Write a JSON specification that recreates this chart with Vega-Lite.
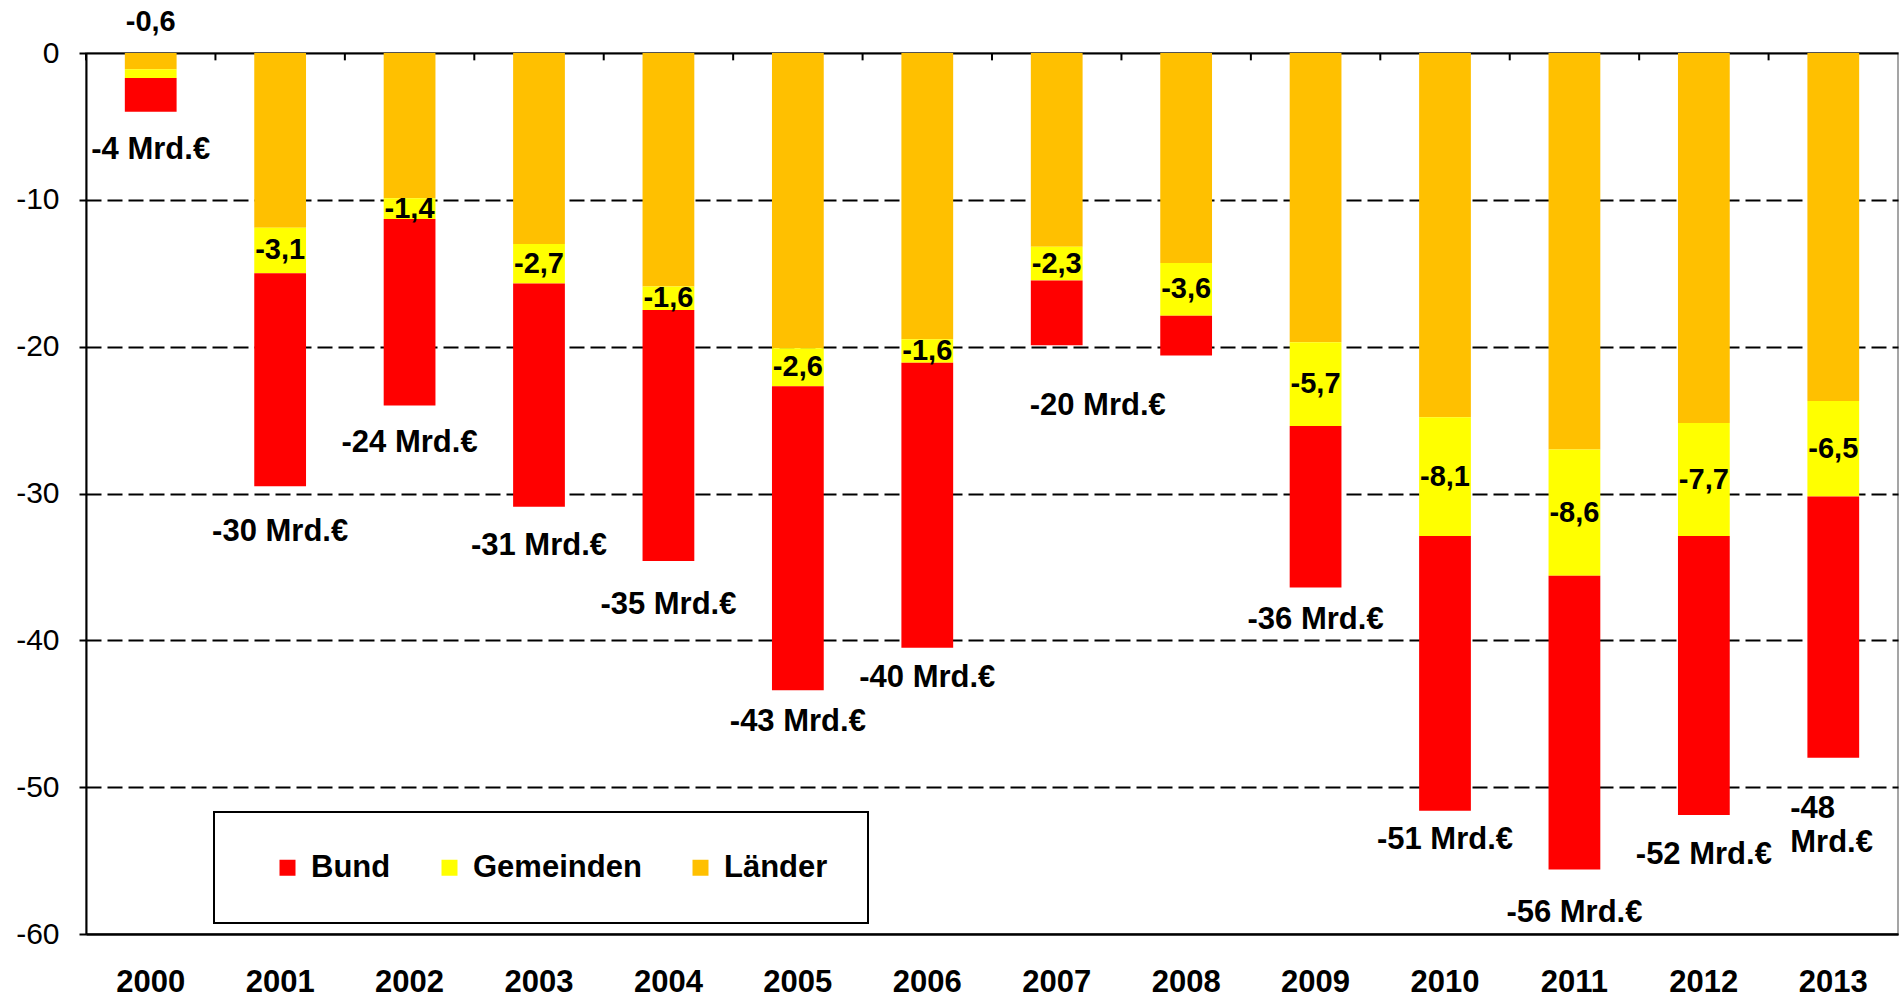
{
  "$schema": "https://vega.github.io/schema/vega-lite/v6.json",
  "width": 1812,
  "height": 881,
  "autosize": {"type": "none"},
  "padding": {"left": 86, "top": 53, "right": 1, "bottom": 65},
  "background": "white",
  "config": {
    "locale": {"number": {"decimal": ",", "thousands": ".", "grouping": [3], "currency": ["", " Mrd.€"], "minus": "-"}},
    "font": "Liberation Sans",
    "view": {"stroke": "#888888", "strokeWidth": 1.5},
    "axis": {"labelFont": "Liberation Sans", "labelColor": "#000000", "domainColor": "#000000", "tickColor": "#000000"},
    "legend": {"strokeWidth": 2},
    "text": {"font": "Liberation Sans", "color": "#000000"}
  },
  "datasets": {
    "werte": [
      {"Jahr": "2000", "Ebene": "Länder", "Wert": -1.1},
      {"Jahr": "2000", "Ebene": "Gemeinden", "Wert": -0.6},
      {"Jahr": "2000", "Ebene": "Bund", "Wert": -2.3},
      {"Jahr": "2001", "Ebene": "Länder", "Wert": -11.9},
      {"Jahr": "2001", "Ebene": "Gemeinden", "Wert": -3.1},
      {"Jahr": "2001", "Ebene": "Bund", "Wert": -14.5},
      {"Jahr": "2002", "Ebene": "Länder", "Wert": -9.9},
      {"Jahr": "2002", "Ebene": "Gemeinden", "Wert": -1.4},
      {"Jahr": "2002", "Ebene": "Bund", "Wert": -12.7},
      {"Jahr": "2003", "Ebene": "Länder", "Wert": -13.0},
      {"Jahr": "2003", "Ebene": "Gemeinden", "Wert": -2.7},
      {"Jahr": "2003", "Ebene": "Bund", "Wert": -15.2},
      {"Jahr": "2004", "Ebene": "Länder", "Wert": -15.9},
      {"Jahr": "2004", "Ebene": "Gemeinden", "Wert": -1.6},
      {"Jahr": "2004", "Ebene": "Bund", "Wert": -17.1},
      {"Jahr": "2005", "Ebene": "Länder", "Wert": -20.1},
      {"Jahr": "2005", "Ebene": "Gemeinden", "Wert": -2.6},
      {"Jahr": "2005", "Ebene": "Bund", "Wert": -20.7},
      {"Jahr": "2006", "Ebene": "Länder", "Wert": -19.5},
      {"Jahr": "2006", "Ebene": "Gemeinden", "Wert": -1.6},
      {"Jahr": "2006", "Ebene": "Bund", "Wert": -19.4},
      {"Jahr": "2007", "Ebene": "Länder", "Wert": -13.2},
      {"Jahr": "2007", "Ebene": "Gemeinden", "Wert": -2.3},
      {"Jahr": "2007", "Ebene": "Bund", "Wert": -4.4},
      {"Jahr": "2008", "Ebene": "Länder", "Wert": -14.3},
      {"Jahr": "2008", "Ebene": "Gemeinden", "Wert": -3.6},
      {"Jahr": "2008", "Ebene": "Bund", "Wert": -2.7},
      {"Jahr": "2009", "Ebene": "Länder", "Wert": -19.7},
      {"Jahr": "2009", "Ebene": "Gemeinden", "Wert": -5.7},
      {"Jahr": "2009", "Ebene": "Bund", "Wert": -11.0},
      {"Jahr": "2010", "Ebene": "Länder", "Wert": -24.8},
      {"Jahr": "2010", "Ebene": "Gemeinden", "Wert": -8.1},
      {"Jahr": "2010", "Ebene": "Bund", "Wert": -18.7},
      {"Jahr": "2011", "Ebene": "Länder", "Wert": -27.0},
      {"Jahr": "2011", "Ebene": "Gemeinden", "Wert": -8.6},
      {"Jahr": "2011", "Ebene": "Bund", "Wert": -20.0},
      {"Jahr": "2012", "Ebene": "Länder", "Wert": -25.2},
      {"Jahr": "2012", "Ebene": "Gemeinden", "Wert": -7.7},
      {"Jahr": "2012", "Ebene": "Bund", "Wert": -19.0},
      {"Jahr": "2013", "Ebene": "Länder", "Wert": -23.7},
      {"Jahr": "2013", "Ebene": "Gemeinden", "Wert": -6.5},
      {"Jahr": "2013", "Ebene": "Bund", "Wert": -17.8}
    ],
    "summen": [
      {"Jahr": "2000", "Gesamt": -4},
      {"Jahr": "2001", "Gesamt": -30},
      {"Jahr": "2002", "Gesamt": -24},
      {"Jahr": "2003", "Gesamt": -31},
      {"Jahr": "2004", "Gesamt": -35},
      {"Jahr": "2005", "Gesamt": -43},
      {"Jahr": "2006", "Gesamt": -40},
      {"Jahr": "2007", "Gesamt": -20},
      {"Jahr": "2009", "Gesamt": -36},
      {"Jahr": "2010", "Gesamt": -51},
      {"Jahr": "2011", "Gesamt": -56},
      {"Jahr": "2012", "Gesamt": -52},
      {"Jahr": "2013", "Gesamt": -48}
    ]
  },
  "layer": [
    {
      "data": {"name": "werte"},
      "mark": {"type": "bar"},
      "encoding": {
        "x": {
          "field": "Jahr", "type": "ordinal",
          "scale": {"paddingInner": 0.6, "paddingOuter": 0.3},
          "axis": {"orient": "bottom", "title": null, "ticks": false, "labelFontWeight": "bold", "labelFontSize": 31, "labelPadding": 33, "domainWidth": 2, "labelAngle": 0, "grid": false}
        },
        "y": {
          "field": "Wert", "type": "quantitative", "stack": "zero",
          "scale": {"domain": [-60, 0], "nice": false},
          "axis": {"orient": "left", "title": null, "values": [0, -10, -20, -30, -40, -50, -60], "format": "d", "labelFontSize": 30, "labelPadding": 20, "tickSize": 7, "tickWidth": 2, "domainWidth": 2, "grid": true, "gridColor": "#000000", "gridDash": {"condition": {"test": "datum.value === 0 || datum.value === -60", "value": [1, 0]}, "value": [15, 6]}, "gridWidth": 2}
        },
        "color": {
          "field": "Ebene", "type": "nominal",
          "scale": {"domain": ["Bund", "Gemeinden", "Länder"], "range": ["#FF0000", "#FFFF00", "#FFC000"]},
          "legend": {"title": null, "orient": "none", "legendX": 128, "legendY": 759, "direction": "horizontal", "strokeColor": "#000000", "fillColor": "#FFFFFF", "padding": 40, "symbolType": "square", "symbolSize": 256, "symbolStrokeWidth": 0, "symbolOffset": 18, "labelFontSize": 31, "labelFontWeight": "bold", "labelColor": "#000000", "labelOffset": 8, "columnPadding": 25, "labelLimit": 400, "symbolOpacity": 1}
        },
        "order": {"field": "Ebene", "sort": "descending"}
      }
    },
    {
      "data": {"name": "werte"},
      "transform": [{"filter": "datum.Ebene === 'Länder'"}],
      "mark": {"type": "rule", "color": "#000000", "strokeWidth": 2, "opacity": 1, "xOffset": -64.7},
      "encoding": {
        "x": {"field": "Jahr", "type": "ordinal", "axis": null},
        "y": {"datum": 0, "type": "quantitative"},
        "y2": {"datum": -0.5}
      }
    },
    {
      "data": {"name": "werte"},
      "transform": [
        {"stack": "Wert", "groupby": ["Jahr"], "sort": [{"field": "Ebene", "order": "descending"}], "as": ["s0", "s1"]},
        {"filter": "datum.Ebene === 'Gemeinden' && datum.Jahr !== '2000'"},
        {"fold": ["s0", "s1"], "as": ["Rand", "Pos"]}
      ],
      "mark": {"type": "text", "fontSize": 29, "fontWeight": "bold", "baseline": "middle", "align": "center"},
      "encoding": {
        "x": {"field": "Jahr", "type": "ordinal", "axis": null},
        "y": {"aggregate": "mean", "field": "Pos", "type": "quantitative"},
        "text": {"field": "Wert", "type": "quantitative", "format": ".1f"}
      }
    },
    {
      "data": {"name": "werte"},
      "transform": [{"filter": "datum.Ebene === 'Gemeinden' && datum.Jahr === '2000'"}],
      "mark": {"type": "text", "fontSize": 29, "fontWeight": "bold", "baseline": "middle", "align": "center", "dy": -31},
      "encoding": {
        "x": {"field": "Jahr", "type": "ordinal", "axis": null},
        "y": {"datum": 0, "type": "quantitative"},
        "text": {"field": "Wert", "type": "quantitative", "format": ".1f"}
      }
    },
    {
      "data": {"name": "summen"},
      "transform": [{"filter": "datum.Jahr !== '2007' && datum.Jahr !== '2013'"}],
      "mark": {"type": "text", "fontSize": 31, "fontWeight": "bold", "baseline": "middle", "align": "center", "dy": 38},
      "encoding": {
        "x": {"field": "Jahr", "type": "ordinal", "axis": null},
        "y": {"field": "Gesamt", "type": "quantitative"},
        "text": {"field": "Gesamt", "type": "quantitative", "format": "$.0f"}
      }
    },
    {
      "data": {"name": "summen"},
      "transform": [{"filter": "datum.Jahr === '2007'"}],
      "mark": {"type": "text", "fontSize": 31, "fontWeight": "bold", "baseline": "middle", "align": "center", "dx": 41, "dy": 59},
      "encoding": {
        "x": {"field": "Jahr", "type": "ordinal", "axis": null},
        "y": {"field": "Gesamt", "type": "quantitative"},
        "text": {"field": "Gesamt", "type": "quantitative", "format": "$.0f"}
      }
    },
    {
      "data": {"name": "summen"},
      "transform": [{"filter": "datum.Jahr === '2013'"}],
      "mark": {"type": "text", "fontSize": 31, "fontWeight": "bold", "baseline": "middle", "align": "left", "dx": -43, "dy": 51, "lineBreak": " ", "lineHeight": 34},
      "encoding": {
        "x": {"field": "Jahr", "type": "ordinal", "axis": null},
        "y": {"field": "Gesamt", "type": "quantitative"},
        "text": {"field": "Gesamt", "type": "quantitative", "format": "$.0f"}
      }
    }
  ],
  "resolve": {"axis": {"x": "independent"}}
}
